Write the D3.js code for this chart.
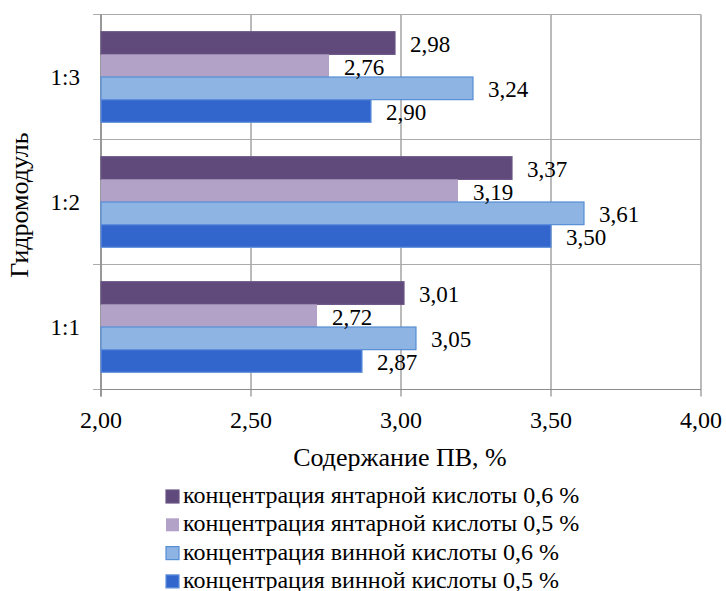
<!DOCTYPE html>
<html>
<head>
<meta charset="utf-8">
<script src="https://cdn.jsdelivr.net/npm/d3@7"></script>
</head>
<body style="margin:0">
<svg id="chart" width="726" height="591"></svg>
<script>
// Hydromodule categories, top to bottom
const categories = ["1:3", "1:2", "1:1"];

// Content of PV, % per acid concentration
const seriesNames = [
  "концентрация янтарной кислоты 0,6 %",
  "концентрация янтарной кислоты 0,5 %",
  "концентрация винной кислоты 0,6 %",
  "концентрация винной кислоты 0,5 %"
];
const succinic06 = [2.98, 3.37, 3.01];
const succinic05 = [2.76, 3.19, 2.72];
const tartaric06 = [3.24, 3.61, 3.05];
const tartaric05 = [2.90, 3.50, 2.87];

const xTicks = [2.0, 2.5, 3.0, 3.5, 4.0];

const fills   = ["#604A7B", "#B3A2C7", "#8EB4E3", "#3366CC"];
const strokes = ["#6B5686", "none", "#558ED5", "#5F8FDB"];

const seriesValues = [succinic06, succinic05, tartaric06, tartaric05];

const locale = d3.formatLocale({ decimal: ",", thousands: " ", grouping: [3], currency: ["", ""] });
const fmt = locale.format(".2f");

const svg = d3.select("#chart");
const plot = { left: 101, right: 701, top: 14.5, bottom: 389.5 };

const x = d3.scaleLinear().domain([2, 4]).range([plot.left, plot.right]);
const y = d3.scaleBand().domain(categories).range([plot.top, plot.bottom]).padding(0);
const ySeries = d3.scaleBand().domain(d3.range(seriesNames.length))
  .range([0, y.bandwidth()]).paddingInner(0).paddingOuter(0.76);

const gridColor = "#8C8C8C";
const sepColor = "#ABABAB";

// vertical gridlines
svg.append("g").selectAll("line").data(xTicks).join("line")
  .attr("x1", d => x(d)).attr("x2", d => x(d))
  .attr("y1", plot.top).attr("y2", plot.bottom + 7)
  .attr("stroke", gridColor).attr("stroke-width", 1.2);

// horizontal category separators
const seps = [plot.top, ...categories.map(c => y(c) + y.bandwidth())];
svg.append("g").selectAll("line").data(seps).join("line")
  .attr("x1", plot.left - 8).attr("x2", plot.right)
  .attr("y1", d => d).attr("y2", d => d)
  .attr("stroke", sepColor).attr("stroke-width", 1.2);

// left axis line
svg.append("line")
  .attr("x1", plot.left).attr("x2", plot.left)
  .attr("y1", plot.top).attr("y2", plot.bottom + 7)
  .attr("stroke", gridColor).attr("stroke-width", 1.5);

// bottom axis line
svg.append("line")
  .attr("x1", plot.left).attr("x2", plot.right)
  .attr("y1", plot.bottom).attr("y2", plot.bottom)
  .attr("stroke", gridColor).attr("stroke-width", 1.2);

// bars
const rows = [];
categories.forEach((c, ci) => {
  seriesValues.forEach((vals, si) => {
    rows.push({ cat: c, s: si, v: vals[ci] });
  });
});

svg.append("g").selectAll("rect").data(rows).join("rect")
  .attr("x", x(2))
  .attr("y", d => y(d.cat) + ySeries(d.s))
  .attr("width", d => x(d.v) - x(2))
  .attr("height", ySeries.bandwidth())
  .attr("fill", d => fills[d.s])
  .attr("stroke", d => strokes[d.s])
  .attr("stroke-width", 1.2);

// all chart text uses the same serif face
function serifText(size) {
  return sel => sel.style("font-family", "'Liberation Serif'").attr("font-size", size).attr("fill", "#000");
}

// value labels
svg.append("g").selectAll("text").data(rows).join("text")
  .call(serifText(23))
  .attr("x", d => x(d.v) + 15)
  .attr("y", d => y(d.cat) + ySeries(d.s) + ySeries.bandwidth() / 2 + 9)
  .text(d => fmt(d.v));

// category labels
svg.append("g").selectAll("text").data(categories).join("text")
  .call(serifText(23))
  .attr("x", 80)
  .attr("y", c => y(c) + y.bandwidth() / 2 + 8)
  .attr("text-anchor", "end")
  .text(c => c);

// x tick labels
svg.append("g").selectAll("text").data(xTicks).join("text")
  .call(serifText(24))
  .attr("x", d => x(d))
  .attr("y", 428)
  .attr("text-anchor", "middle")
  .text(d => fmt(d));

// axis titles
svg.append("text")
  .call(serifText(26))
  .attr("x", 400)
  .attr("y", 465.5)
  .attr("text-anchor", "middle")
  .text("Содержание ПВ, %");

svg.append("text")
  .call(serifText(26))
  .attr("transform", `translate(28,${(plot.top + plot.bottom) / 2 + 3}) rotate(-90)`)
  .attr("text-anchor", "middle")
  .text("Гидромодуль");

// legend
const legend = svg.append("g").selectAll("g").data(seriesNames).join("g")
  .attr("transform", (d, i) => `translate(166, ${503 + i * 28.3})`);
legend.append("rect")
  .attr("x", 0).attr("y", -13)
  .attr("width", 13).attr("height", 13)
  .attr("fill", (d, i) => fills[i])
  .attr("stroke", (d, i) => strokes[i])
  .attr("stroke-width", 1.2);
legend.append("text")
  .call(serifText(24))
  .attr("x", 17).attr("y", 0)
  .text(d => d);
</script>
</body>
</html>
